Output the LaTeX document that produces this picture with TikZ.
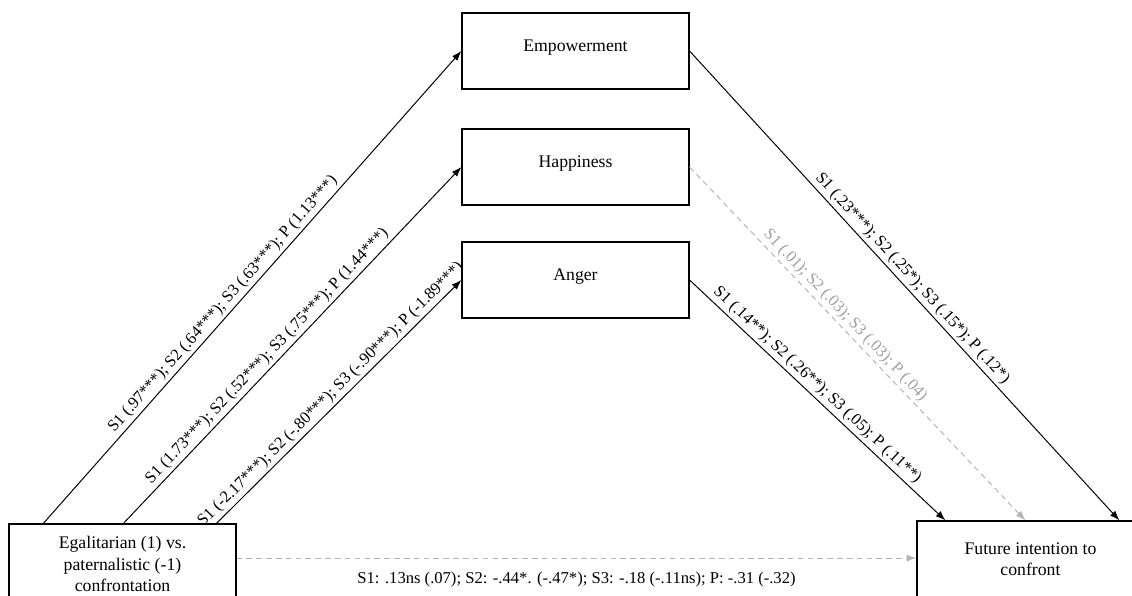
\documentclass[tikz,border=0pt]{standalone}
\usepackage{fontspec}
\setmainfont{Liberation Serif}
\usetikzlibrary{arrows.meta, calc}
\definecolor{nsline}{RGB}{180,180,180}
\definecolor{nstext}{RGB}{160,160,160}

\begin{document}
\begin{tikzpicture}[x=0.025cm, y=-0.025cm,
    box/.style={draw, line width=0.8pt, minimum width=5.675cm, minimum height=1.9cm,
      align=center, font=\fontsize{12.6}{15}\selectfont},
    emobox/.style={box, text height=0.7em, text depth=0.6em},
    link/.style={line width=0.7pt, -{Latex[length=7pt,width=5pt]}},
    nslink/.style={link, nsline, dash pattern=on 4pt off 3pt},
    coef/.style={font=\fontsize{11.7}{14}\selectfont, sloped, above=1pt, inner sep=1pt}]
  \useasboundingbox (0,0) rectangle (1132,595);
  \clip (0,0) rectangle (1132,595);

  % mediators
  \node[emobox] (emp) at (575.5,51) {Empowerment};
  \node[emobox] (hap) at (575.5,167) {Happiness};
  \node[emobox] (ang) at (575.5,280) {Anger};

  % predictor and outcome
  \node[box, minimum height=2cm] (egal) at (122.5,564) {Egalitarian (1) vs.\\paternalistic (-1)\\confrontation};
  \node[box] (fut) at (1030.5,559) {Future intention to\\confront};

  % a paths
  \draw[link] ($(egal.north west)+(34,1)$) -- node[coef, pos=0.45] {S1 (.97***); S2 (.64***); S3 (.63***); P (1.13***)} (emp.west);
  \draw[link] ($(egal.north west)+(114,1)$) -- node[coef, pos=0.45] {S1 (1.73***); S2 (.52***); S3 (.75***); P (1.44***)} (hap.west);
  \draw[link] ($(egal.north west)+(207,1)$) -- node[coef, pos=0.50] {S1 (-2.17***); S2 (-.80***); S3 (-.90***); P (-1.89***)} (ang.west);

  % b paths
  \draw[link] (emp.east) -- node[coef, pos=0.50] {S1 (.23***); S2 (.25*); S3 (.15*); P (.12*)} ($(fut.north west)+(203,0)$);
  \draw[nslink] (hap.east) -- node[coef, pos=0.44, text=nstext] {S1 (.01); S2 (.03); S3 (.03); P (.04)} ($(fut.north west)+(109,0)$);
  \draw[link] (ang.east) -- node[coef, pos=0.47] {S1 (.14**); S2 (.26**); S3 (.05); P (.11**)} ($(fut.north west)+(29,0)$);

  % c path
  \coordinate (cstart) at ($(egal.east)+(0,-6)$);
  \draw[nslink] (cstart) -- node[below=6pt, text=black, font=\fontsize{11.8}{14}\selectfont] {S1: .13ns (.07); S2: -.44*. (-.47*); S3: -.18 (-.11ns); P: -.31 (-.32)} (fut.west |- cstart);
\end{tikzpicture}
\end{document}
